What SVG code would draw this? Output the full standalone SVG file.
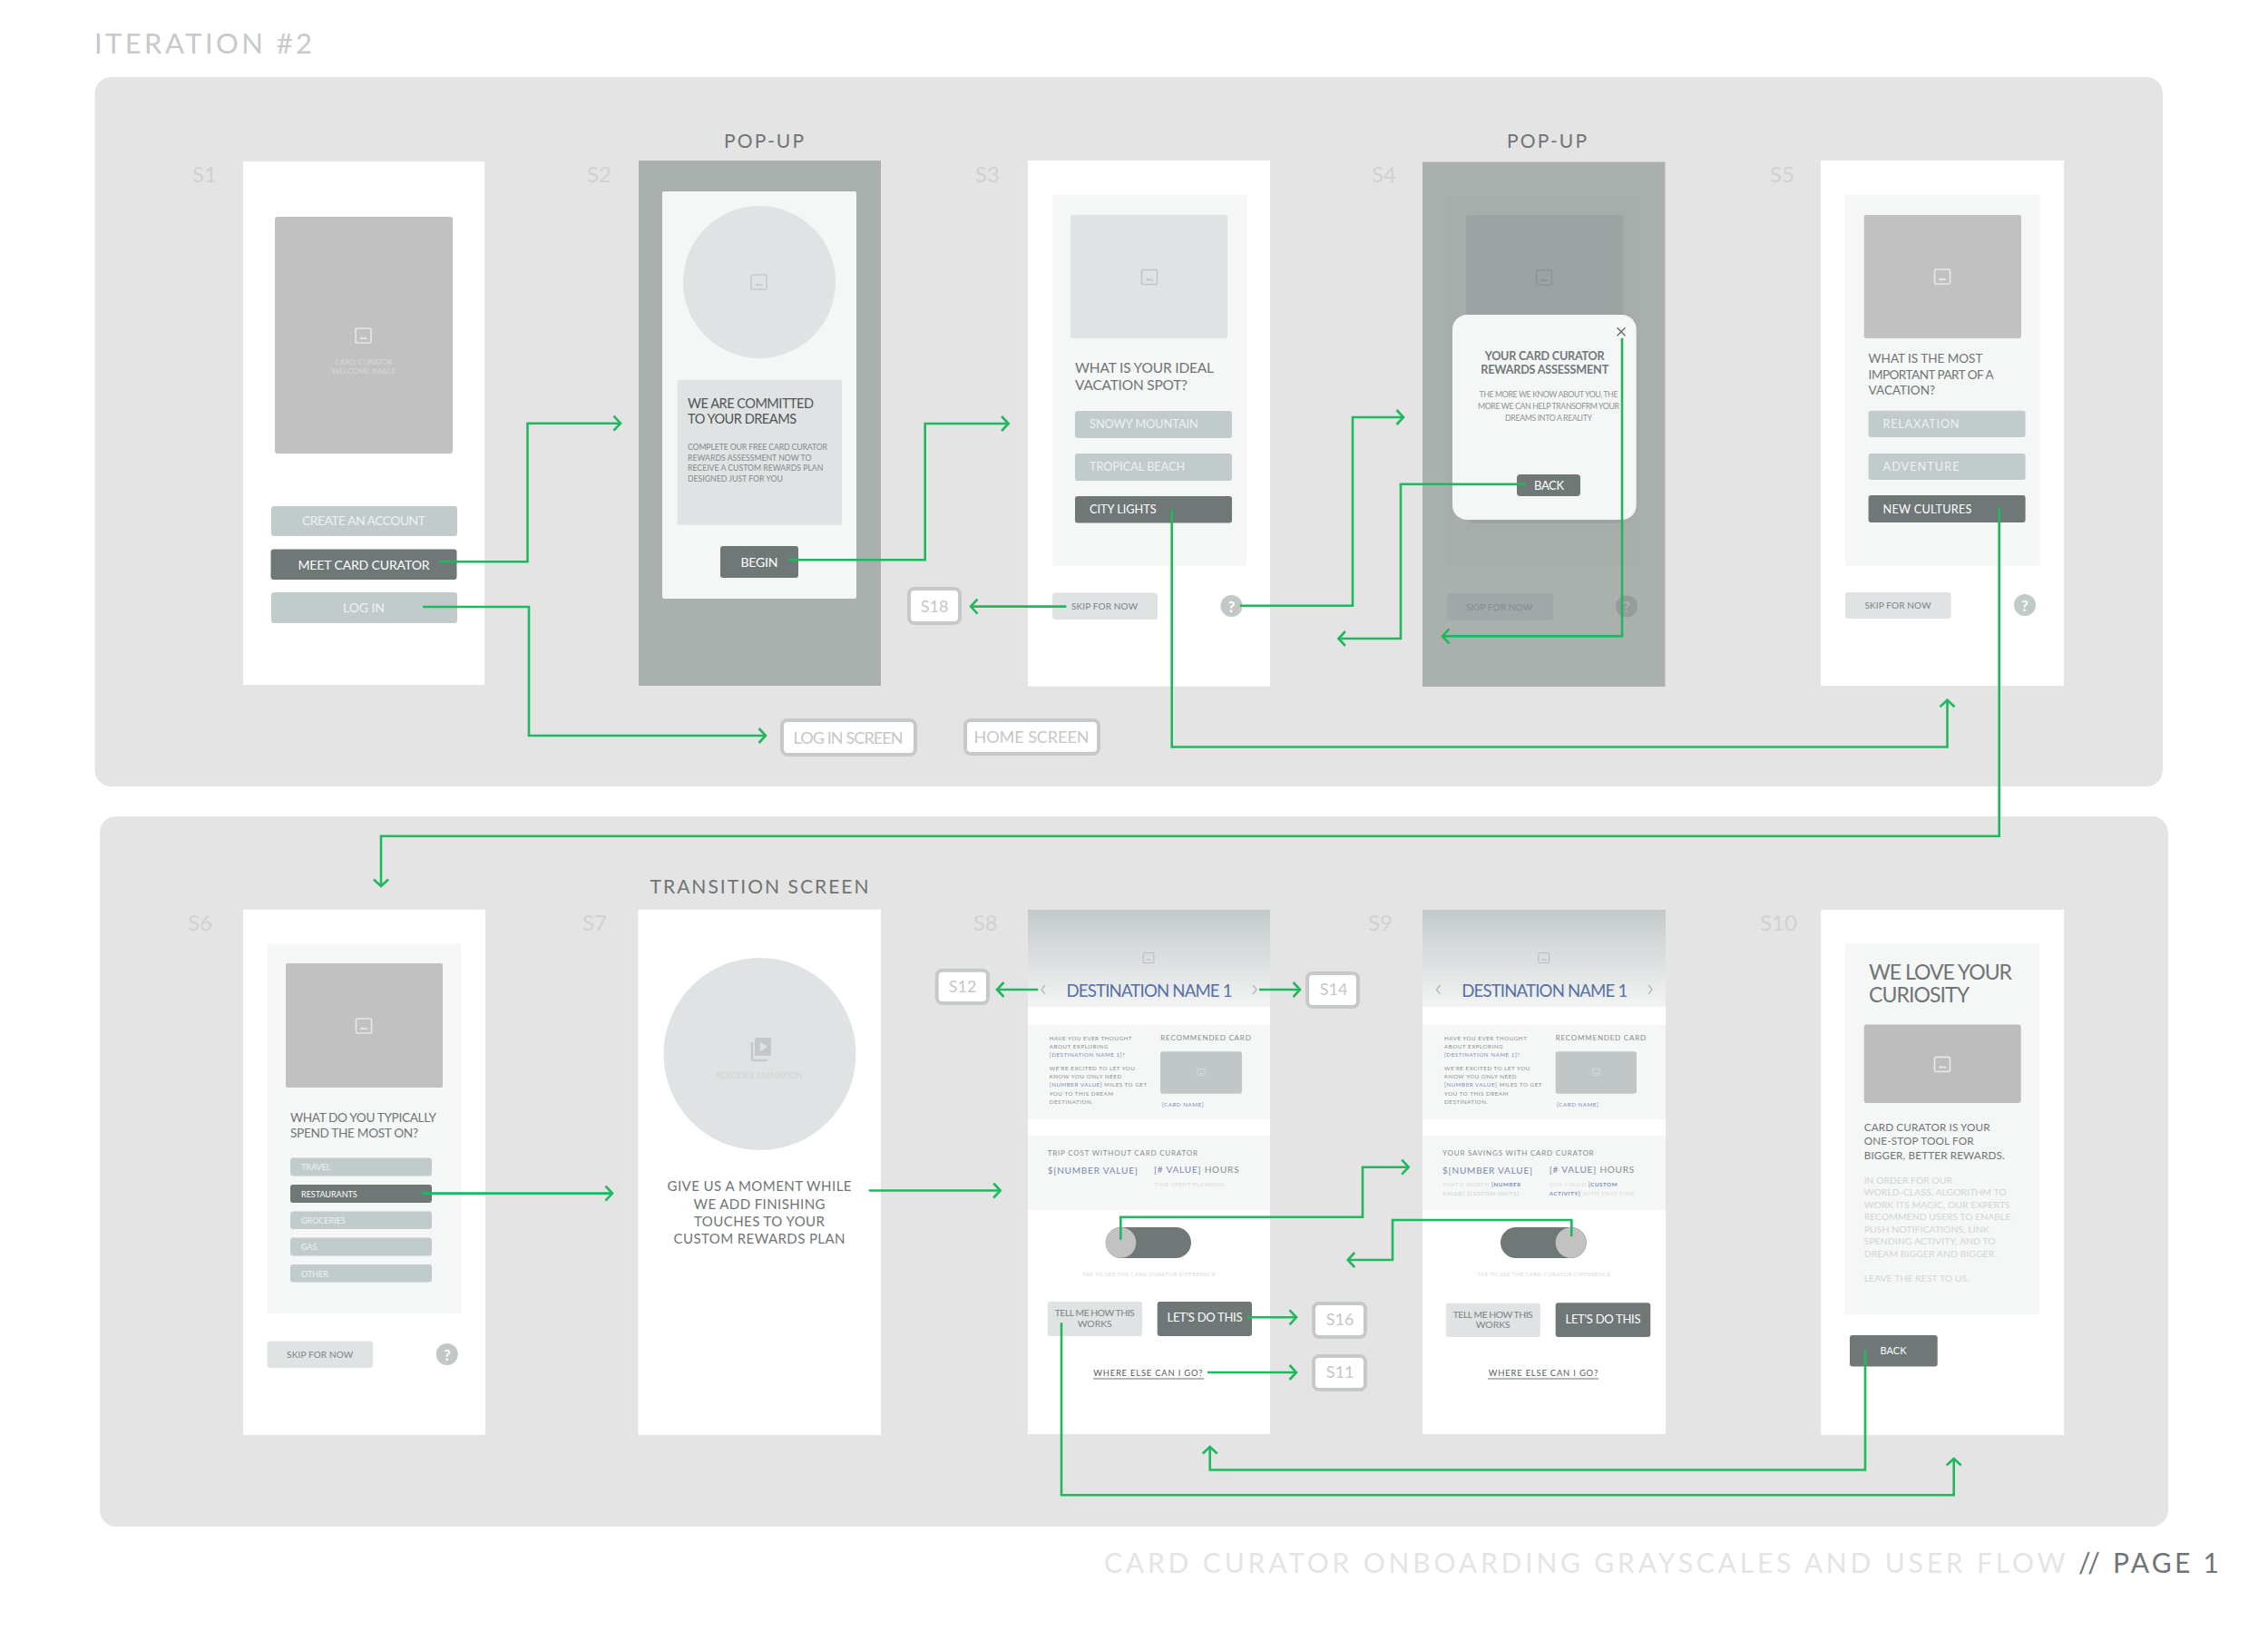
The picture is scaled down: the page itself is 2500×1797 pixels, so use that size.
<svg xmlns="http://www.w3.org/2000/svg" width="2500" height="1797" viewBox="0 0 2500 1797">
<style>
text{font-family:Lato,"Liberation Sans",sans-serif;}
.panel{fill:#e4e4e4}
.scr{fill:#fff}
.dim{fill:#a9b0ae}
.in{fill:#f5f6f6}
.ph{fill:#c1c1c1}
.phl{fill:#e0e3e3}
.bl{fill:#c2cbcb}
.bd{fill:#6f7777}
.bs{fill:#e0e3e3}
.tw{fill:#eef1f1}
.tk{fill:#fff}
.sl{font-size:24px;fill:#cfd2d2}
.hd{font-size:21px;fill:#6f7575;text-anchor:middle}
.q{fill:#6f7575}
.box{fill:#fff;stroke:#c6c9c9;stroke-width:4}
.bt{fill:#c4c8c8;font-size:18px;text-anchor:middle}
.sk{fill:#7c8282;font-size:10px}
.m{text-anchor:middle}
.c{fill:none;stroke:#1fb85f;stroke-width:2.6;marker-end:url(#ah)}
.t6{font-size:6.2px;fill:#8a9090;letter-spacing:.55px}
.b6{fill:#7d90b4}
.bb{fill:#7d90b4;font-weight:700}
.t8{font-size:8px;fill:#868c8c;letter-spacing:.8px}
.n10{font-size:10px;letter-spacing:.8px;fill:#7788ab}
.h10{fill:#868c8c}
.f6{font-size:6.2px;fill:#d6d9d9;letter-spacing:.55px}
.dn{font-size:18.6px;fill:#5470a6;text-anchor:middle}
.g10{font-size:10.4px;fill:#d2d5d5}
.chev{fill:none;stroke:#b4baba;stroke-width:1.4}
.tg{font-size:10.4px;fill:#7c8282;text-anchor:middle}
.we{font-size:9.4px;fill:#555b5b;text-anchor:middle;letter-spacing:.7px}
</style>
<defs>
<g id="img"><rect x="-8.5" y="-8" width="17" height="16" rx="1.5" fill="none" stroke="currentColor" stroke-width="1.6"/><path d="M-4.5 4l3-3 2 2 1.5-1.5 3 2.5z" fill="currentColor"/></g>
<linearGradient id="hg" x1="0" y1="0" x2="0" y2="1"><stop offset="0" stop-color="#c3c9c9"/><stop offset="1" stop-color="#f3f4f4"/></linearGradient>
<marker id="ah" markerUnits="userSpaceOnUse" markerWidth="24" markerHeight="24" viewBox="-12 -12 24 24" refX="0" refY="0" orient="auto"><path d="M-7.5-8L0 0-7.5 8" fill="none" stroke="#1fb85f" stroke-width="2.6"/></marker>
</defs>
<text x="104" y="59" font-size="31" fill="#c6caca" textLength="240">ITERATION #2</text>
<rect class="panel" x="104.500" y="85" width="2279.500" height="782" rx="18"/>
<rect class="panel" x="110" y="900" width="2280" height="783" rx="18"/>
<g id="s1">
<text class="sl" x="212" y="201">S1</text>
<rect class="scr" x="268" y="178" width="266" height="577"/>
<rect class="ph" x="303" y="239" width="196" height="261" rx="3"/>
<use href="#img" x="400.500" y="370" color="#e6e6e6"/>
<text x="401" y="402" font-size="8.400" fill="#d6d8d8" class="m">CARD CURATOR</text>
<text x="401" y="412" font-size="8.400" fill="#d6d8d8" class="m">WELCOME IMAGE</text>
<rect class="bl" x="299" y="558" width="205" height="33" rx="3"/>
<text class="tw m" x="401" y="579" font-size="14" textLength="136">CREATE AN ACCOUNT</text>
<rect class="bd" x="298.500" y="605.500" width="205" height="33.500" rx="3"/>
<text class="tk m" x="401" y="628" font-size="14" textLength="145">MEET CARD CURATOR</text>
<rect class="bl" x="299" y="653" width="205" height="34" rx="3"/>
<text class="tw m" x="401" y="675" font-size="14" textLength="46">LOG IN</text>
</g>
<g id="s2">
<text class="hd" x="842" y="163" textLength="88">POP-UP</text>
<text class="sl" x="647" y="201">S2</text>
<rect class="dim" x="704" y="177" width="267" height="579"/>
<rect class="in" x="730" y="211" width="214" height="449" rx="2"/>
<circle cx="837" cy="311" r="84" fill="#e0e3e3"/>
<use href="#img" x="836.500" y="311" color="#c6caca"/>
<rect class="phl" x="746.700" y="418.700" width="181.300" height="160" rx="2"/>
<text x="758" y="450" font-size="14.500" fill="#4f5555" textLength="139">WE ARE COMMITTED</text>
<text x="758" y="467" font-size="14.500" fill="#4f5555" textLength="120">TO YOUR DREAMS</text>
<g font-size="8.700" fill="#838989">
<text x="758" y="496" textLength="154">COMPLETE OUR FREE CARD CURATOR</text>
<text x="758" y="507.500">REWARDS ASSESSMENT NOW TO</text>
<text x="758" y="519">RECEIVE A CUSTOM REWARDS PLAN</text>
<text x="758" y="530.500">DESIGNED JUST FOR YOU</text>
</g>
<rect class="bd" x="794" y="602" width="86" height="35" rx="3"/>
<text class="tk m" x="837" y="625" font-size="14" textLength="41">BEGIN</text>
</g>
<g id="s18"><rect class="box" x="1002" y="649" width="56" height="38" rx="6"/><text class="bt" x="1030" y="675">S18</text></g>
<g id="login-screen"><rect class="box" x="862" y="794" width="147" height="38" rx="6"/><text class="bt" x="935" y="820" textLength="121">LOG IN SCREEN</text></g>
<g id="home-screen"><rect class="box" x="1064" y="794" width="147" height="37" rx="6"/><text class="bt" x="1137" y="819" textLength="127">HOME SCREEN</text></g>
<g id="s3">
<text class="sl" x="1075" y="201">S3</text>
<rect class="scr" x="1133" y="177" width="267" height="579.500"/>
<rect class="in" x="1160" y="215" width="214" height="409" rx="2"/>
<rect class="phl" x="1180" y="237" width="173" height="136" rx="2"/>
<use href="#img" x="1267" y="305.500" color="#c0c5c5"/>
<text class="q" x="1185" y="411" font-size="15.400" textLength="153">WHAT IS YOUR IDEAL</text>
<text class="q" x="1185" y="430" font-size="15.400" textLength="124">VACATION SPOT?</text>
<rect class="bl" x="1185" y="453" width="173" height="30" rx="3"/>
<text class="tw" x="1201" y="472" font-size="12.700">SNOWY MOUNTAIN</text>
<rect class="bl" x="1185" y="500" width="173" height="30" rx="3"/>
<text class="tw" x="1201" y="519" font-size="12.700">TROPICAL BEACH</text>
<rect class="bd" x="1185" y="547" width="173" height="29.500" rx="3"/>
<text class="tk" x="1201" y="566" font-size="12.700">CITY LIGHTS</text>
<rect class="bs" x="1160" y="653.600" width="116" height="29.400" rx="3"/>
<text class="sk" x="1181" y="672" textLength="73">SKIP FOR NOW</text>
<circle cx="1357.500" cy="668" r="12" fill="#c2c7c7"/>
<text x="1357.500" y="674.500" font-size="17" font-weight="700" fill="#fff" class="m">?</text>
</g>
<g id="s4">
<text class="hd" x="1705" y="163" textLength="88">POP-UP</text>
<text class="sl" x="1512" y="201">S4</text>
<rect class="dim" x="1568" y="178.500" width="267.500" height="578.500"/>
<rect x="1595" y="215.500" width="213" height="408.500" fill="#a6adab" rx="2"/>
<rect x="1616" y="237" width="173" height="136" fill="#9da2a2" rx="2"/>
<use href="#img" x="1702" y="306" color="#8e9494"/>
<rect x="1620" y="560" width="168" height="17" rx="3" fill="#9da2a2"/>
<rect x="1595" y="654" width="116.600" height="29.500" rx="3" fill="#a1a6a6"/>
<text x="1616" y="672.500" font-size="10" fill="#868c8c" textLength="73">SKIP FOR NOW</text>
<circle cx="1793" cy="668.600" r="12" fill="#969c9b"/>
<text x="1793" y="675" font-size="17" font-weight="700" fill="#a9b0ae" class="m">?</text>
<rect x="1601" y="347" width="202.700" height="226" rx="16" fill="#f5f6f6"/>
<path d="M1782.500 361.200l9 9m0-9l-9 9" stroke="#5e6565" stroke-width="1.300" fill="none"/>
<text class="m" x="1702.700" y="397" font-size="12.600" font-weight="700" fill="#71787a" textLength="132">YOUR CARD CURATOR</text>
<text class="m" x="1702.700" y="412" font-size="12.600" font-weight="700" fill="#71787a" textLength="141">REWARDS ASSESSMENT</text>
<g font-size="8.800" fill="#8f9494" class="m">
<text x="1707" y="438" textLength="153">THE MORE WE KNOW ABOUT YOU, THE</text>
<text x="1707" y="451" textLength="156">MORE WE CAN HELP TRANSOFRM YOUR</text>
<text x="1707" y="464" textLength="96">DREAMS INTO A REALITY</text>
</g>
<rect class="bd" x="1672" y="523" width="70" height="24" rx="4"/>
<text class="tk m" x="1707.500" y="539.500" font-size="13" textLength="33">BACK</text>
</g>
<g id="s5">
<text class="sl" x="1951" y="201">S5</text>
<rect class="scr" x="2007" y="177" width="268" height="579"/>
<rect class="in" x="2034" y="215" width="214.600" height="409" rx="2"/>
<rect class="ph" x="2054.700" y="237" width="173.300" height="136" rx="2"/>
<use href="#img" x="2141" y="305" color="#e8e8e8"/>
<g class="q" font-size="13.500">
<text x="2059.600" y="400">WHAT IS THE MOST</text>
<text x="2059.600" y="417.500" textLength="138">IMPORTANT PART OF A</text>
<text x="2059.600" y="434.500">VACATION?</text>
</g>
<rect class="bl" x="2059.600" y="452.700" width="173" height="29.300" rx="3"/>
<text class="tw" x="2075.500" y="472" font-size="12.700" textLength="84">RELAXATION</text>
<rect class="bl" x="2059.600" y="500" width="173" height="29" rx="3"/>
<text class="tw" x="2075.500" y="519" font-size="12.700" textLength="84">ADVENTURE</text>
<rect class="bd" x="2059.600" y="546" width="173" height="30" rx="3"/>
<text class="tk" x="2075.500" y="566" font-size="12.700" textLength="98">NEW CULTURES</text>
<rect class="bs" x="2034" y="653" width="116.600" height="29" rx="3"/>
<text class="sk m" x="2092" y="671" textLength="73">SKIP FOR NOW</text>
<circle cx="2232" cy="667" r="12" fill="#c2c9c9"/>
<text x="2232" y="673.500" font-size="17" font-weight="700" fill="#fff" class="m">?</text>
</g>
<g id="s6">
<text class="sl" x="207" y="1026">S6</text>
<rect class="scr" x="268" y="1002.700" width="267" height="579.300"/>
<rect class="in" x="294.500" y="1040.500" width="214" height="407.500" rx="2"/>
<rect class="ph" x="315" y="1062" width="173" height="137" rx="2"/>
<use href="#img" x="401" y="1131" color="#e8e8e8"/>
<text class="q" x="320" y="1237" font-size="13.600" textLength="161">WHAT DO YOU TYPICALLY</text>
<text class="q" x="320" y="1254" font-size="13.600" textLength="141">SPEND THE MOST ON?</text>
<rect class="bl" x="320" y="1276.500" width="156" height="20" rx="3"/><text class="tw" x="332" y="1290" font-size="9">TRAVEL</text>
<rect class="bd" x="320" y="1306" width="156" height="20" rx="3"/><text class="tk" x="332" y="1319.500" font-size="9">RESTAURANTS</text>
<rect class="bl" x="320" y="1335.500" width="156" height="19.500" rx="3"/><text class="tw" x="332" y="1349" font-size="9">GROCERIES</text>
<rect class="bl" x="320" y="1364.500" width="156" height="20" rx="3"/><text class="tw" x="332" y="1378" font-size="9">GAS</text>
<rect class="bl" x="320" y="1394" width="156" height="19.500" rx="3"/><text class="tw" x="332" y="1407.500" font-size="9">OTHER</text>
<rect class="bs" x="294.500" y="1478.600" width="116.500" height="29.400" rx="3"/>
<text class="sk m" x="352.600" y="1497" textLength="73">SKIP FOR NOW</text>
<circle cx="492.800" cy="1493" r="12" fill="#c2c7c7"/>
<text x="492.800" y="1499.500" font-size="17" font-weight="700" fill="#fff" class="m">?</text>
</g>
<g id="s7">
<text class="hd" x="837" y="985" textLength="241">TRANSITION SCREEN</text>
<text class="sl" x="642" y="1026">S7</text>
<rect class="scr" x="703.500" y="1002.700" width="267.500" height="579.300"/>
<circle cx="837.500" cy="1162" r="106" fill="#e0e3e3"/>
<path d="M829 1149v18c0 1 1 2 2 2h15" fill="none" stroke="#c3c8c8" stroke-width="2.400"/>
<rect x="832" y="1144" width="18" height="20" rx="2" fill="#c3c8c8"/>
<path d="M838 1149l8 5-8 5z" fill="#e0e3e3"/>
<text class="m" x="837" y="1189" font-size="9" fill="#d0d4d4" textLength="95">ROLODEX ANIMATION</text>
<g class="m q" font-size="15">
<text x="837" y="1313" textLength="203">GIVE US A MOMENT WHILE</text>
<text x="837" y="1332.600" textLength="145">WE ADD FINISHING</text>
<text x="837" y="1351.700" textLength="144">TOUCHES TO YOUR</text>
<text x="837" y="1370.700" textLength="189">CUSTOM REWARDS PLAN</text>
</g>
</g>
<g id="s12"><rect class="box" x="1032.700" y="1069.700" width="56.300" height="36.300" rx="6"/><text class="bt" x="1061" y="1094">S12</text></g>
<g id="s14"><rect class="box" x="1441" y="1073" width="56" height="37" rx="6"/><text class="bt" x="1470" y="1097">S14</text></g>
<g id="s16"><rect class="box" x="1448" y="1437" width="57" height="37" rx="6"/><text class="bt" x="1477" y="1461">S16</text></g>
<g id="s11"><rect class="box" x="1448" y="1495" width="57" height="37" rx="6"/><text class="bt" x="1477" y="1519">S11</text></g>
<g id="s8">
<text class="sl" x="1072.700" y="1025.700">S8</text>
<rect class="scr" x="1133" y="1002.700" width="267" height="578.300"/>
<rect x="1133" y="1002.700" width="267" height="107.300" fill="url(#hg)"/>
<use href="#img" transform="translate(1266 1056) scale(.68)" color="#b9bfbf"/>
<path class="chev" d="M1152 1086l-4 5 4 5M1381 1086l4 5-4 5"/>
<text class="dn" x="1267" y="1098.700" textLength="183">DESTINATION NAME 1</text>
<rect class="in" x="1133" y="1130" width="267" height="104"/>
<text class="t6" x="1156.700" y="1146.700">HAVE YOU EVER THOUGHT</text>
<text class="t6" x="1156.700" y="1156">ABOUT EXPLORING</text>
<text class="t6 b6" x="1156.700" y="1165.300">[DESTINATION NAME 1]?</text>
<text class="t6" x="1156.700" y="1179.700">WE'RE EXCITED TO LET YOU</text>
<text class="t6" x="1156.700" y="1189">KNOW YOU ONLY NEED</text>
<text class="t6" x="1156.700" y="1198.300"><tspan class="b6">[NUMBER VALUE]</tspan> MILES TO GET</text>
<text class="t6" x="1156.700" y="1207.700">YOU TO THIS DREAM</text>
<text class="t6" x="1156.700" y="1217">DESTINATION.</text>
<text class="t8" x="1279.300" y="1146.700">RECOMMENDED CARD</text>
<rect x="1279" y="1159.300" width="90" height="46.400" rx="3" fill="#c0c7c6"/>
<use href="#img" transform="translate(1324 1182) scale(.45)" color="#dfe2e2"/>
<text class="t6 b6" x="1280.700" y="1220">[CARD NAME]</text>
<rect class="in" x="1133" y="1252" width="267" height="82"/>
<text class="t8" x="1154.700" y="1274">TRIP COST WITHOUT CARD CURATOR</text>
<text class="n10" x="1154.700" y="1294">$[NUMBER VALUE]</text>
<text class="n10" x="1272" y="1293.300">[# VALUE] <tspan class="h10">HOURS</tspan></text>
<text class="f6" x="1272" y="1308">TIME SPENT PLANNING</text>
<rect class="bd" x="1218.700" y="1353" width="94.300" height="34" rx="17"/>
<circle cx="1235.500" cy="1370" r="16.800" fill="#c2c2c2"/>
<text class="f6 m" x="1266.700" y="1407" textLength="147">TAP TO SEE THE CARD CURATOR DIFFERENCE</text>
<rect class="bs" x="1154.700" y="1435" width="104.300" height="38" rx="3"/>
<text class="tg" x="1206.700" y="1451" textLength="88">TELL ME HOW THIS</text>
<text class="tg" x="1206.700" y="1463">WORKS</text>
<rect class="bd" x="1275.700" y="1435" width="104.300" height="38" rx="3"/>
<text class="tk m" x="1328" y="1457" font-size="13" textLength="83">LET'S DO THIS</text>
<text class="we" x="1265.700" y="1517" textLength="121">WHERE ELSE CAN I GO?</text>
<rect x="1205" y="1519.500" width="122" height="1" fill="#6f7777"/>
</g>
<g id="s9">
<text class="sl" x="1508" y="1025.700">S9</text>
<rect class="scr" x="1568" y="1002.700" width="268" height="578.300"/>
<rect x="1568" y="1002.700" width="268" height="107.300" fill="url(#hg)"/>
<use href="#img" transform="translate(1701.700 1056) scale(.68)" color="#b9bfbf"/>
<path class="chev" d="M1587.500 1086l-4 5 4 5M1817 1086l4 5-4 5"/>
<text class="dn" x="1702.700" y="1098.700" textLength="183">DESTINATION NAME 1</text>
<rect class="in" x="1568" y="1130" width="268" height="104"/>
<text class="t6" x="1592" y="1146.700">HAVE YOU EVER THOUGHT</text>
<text class="t6" x="1592" y="1156">ABOUT EXPLORING</text>
<text class="t6 b6" x="1592" y="1165.300">[DESTINATION NAME 1]?</text>
<text class="t6" x="1592" y="1179.700">WE'RE EXCITED TO LET YOU</text>
<text class="t6" x="1592" y="1189">KNOW YOU ONLY NEED</text>
<text class="t6" x="1592" y="1198.300"><tspan class="b6">[NUMBER VALUE]</tspan> MILES TO GET</text>
<text class="t6" x="1592" y="1207.700">YOU TO THIS DREAM</text>
<text class="t6" x="1592" y="1217">DESTINATION.</text>
<text class="t8" x="1714.700" y="1146.700">RECOMMENDED CARD</text>
<rect x="1714.700" y="1159.300" width="89.300" height="46.400" rx="3" fill="#c0c7c6"/>
<use href="#img" transform="translate(1759.500 1182) scale(.45)" color="#dfe2e2"/>
<text class="t6 b6" x="1716" y="1220">[CARD NAME]</text>
<rect class="in" x="1568" y="1252" width="268" height="82"/>
<text class="t8" x="1590" y="1274">YOUR SAVINGS WITH CARD CURATOR</text>
<text class="n10" x="1590" y="1294">$[NUMBER VALUE]</text>
<text class="n10" x="1707.700" y="1293.300">[# VALUE] <tspan class="h10">HOURS</tspan></text>
<text class="f6" x="1590" y="1308">THAT'S WORTH <tspan class="bb">[NUMBER</tspan></text>
<text class="f6 bb" x="1590" y="1317.700">VALUE] [CUSTOM UNITS]</text>
<text class="f6" x="1707.700" y="1308">YOU COULD <tspan class="bb">[CUSTOM</tspan></text>
<text class="f6" x="1707.700" y="1317.700"><tspan class="bb">ACTIVITY]</tspan> WITH THAT TIME</text>
<rect class="bd" x="1654" y="1353" width="94.700" height="34" rx="17"/>
<circle cx="1731.500" cy="1370" r="16.800" fill="#c2c2c2"/>
<text class="f6 m" x="1702" y="1407" textLength="147">TAP TO SEE THE CARD CURATOR DIFFERENCE</text>
<rect class="bs" x="1593.700" y="1436.700" width="104.300" height="37.300" rx="3"/>
<text class="tg" x="1645.700" y="1452.700" textLength="88">TELL ME HOW THIS</text>
<text class="tg" x="1645.700" y="1464">WORKS</text>
<rect class="bd" x="1714.700" y="1436.300" width="104.600" height="37.700" rx="3"/>
<text class="tk m" x="1767" y="1458.700" font-size="13" textLength="83">LET'S DO THIS</text>
<text class="we" x="1701.300" y="1517" textLength="121">WHERE ELSE CAN I GO?</text>
<rect x="1640" y="1519.500" width="122" height="1" fill="#6f7777"/>
</g>
<g id="s10">
<text class="sl" x="1940" y="1025.700">S10</text>
<rect class="scr" x="2007.300" y="1003" width="267.700" height="579"/>
<rect class="in" x="2034" y="1040" width="214" height="409" rx="2"/>
<text class="q" x="2060" y="1080" font-size="23" textLength="158">WE LOVE YOUR</text>
<text class="q" x="2060" y="1105" font-size="23" textLength="111">CURIOSITY</text>
<rect x="2054.700" y="1129.600" width="173" height="86.400" rx="3" fill="#bdbdbd"/>
<use href="#img" x="2141" y="1173.400" color="#e8e8e8"/>
<g class="q" font-size="11.700">
<text x="2054.700" y="1246.700" textLength="139">CARD CURATOR IS YOUR</text>
<text x="2054.700" y="1262.300" textLength="121">ONE-STOP TOOL FOR</text>
<text x="2054.700" y="1278" textLength="155">BIGGER, BETTER REWARDS.</text>
</g>
<text class="g10" x="2054.700" y="1304.800">IN ORDER FOR OUR</text>
<text class="g10" x="2054.700" y="1318.300" textLength="157">WORLD-CLASS, ALGORITHM TO</text>
<text class="g10" x="2054.700" y="1331.700" textLength="161">WORK ITS MAGIC, OUR EXPERTS</text>
<text class="g10" x="2054.700" y="1345" textLength="161.700">RECOMMEND USERS TO ENABLE</text>
<text class="g10" x="2054.700" y="1358.600" textLength="138">PUSH NOTIFICATIONS, LINK</text>
<text class="g10" x="2054.700" y="1372" textLength="145">SPENDING ACTIVITY, AND TO</text>
<text class="g10" x="2054.700" y="1386" textLength="146">DREAM BIGGER AND BIGGER.</text>
<text class="g10" x="2054.700" y="1412.800" textLength="116">LEAVE THE REST TO US.</text>
<rect class="bd" x="2039" y="1472" width="96.700" height="34.500" rx="3"/>
<text class="tk m" x="2087" y="1493" font-size="11">BACK</text>
</g>
<g id="connectors">
<path class="c" d="M484 619.300H581.500V466.700H684"/>
<path class="c" d="M466 669H583V811H844"/>
<path class="c" d="M869 617.300H1019.700V467H1111.600"/>
<path class="c" d="M1175.400 668.600H1070"/>
<path class="c" d="M1366.700 667.800H1491V460H1547"/>
<path class="c" d="M1682 533.700H1544V704H1475.400"/>
<path class="c" d="M1788 372.700V701.400H1590"/>
<path class="c" d="M1291.700 561.500V823.500H2146.500V771.700"/>
<path class="c" d="M2203.700 560V921.800H420V977"/>
<path class="c" d="M465 1315.600H675"/>
<path class="c" d="M957.700 1312.500H1102.700"/>
<path class="c" d="M1144.300 1091H1099"/>
<path class="c" d="M1388 1091H1433"/>
<path class="c" d="M1374 1452.300H1429"/>
<path class="c" d="M1331 1513H1429"/>
<path class="c" d="M1235.300 1366.700V1341.700H1502V1286.700H1552.700"/>
<path class="c" d="M1732.300 1363V1345H1535V1389H1485.700"/>
<path class="c" d="M1170 1458.300V1648.300H2153.700V1608"/>
<path class="c" d="M2056 1488.700V1620.500H1333.700V1595"/>
</g>
<g id="footer">
<text x="1217" y="1734.300" font-size="30" fill="#e3e5e5" textLength="1059.600">CARD CURATOR ONBOARDING GRAYSCALES AND USER FLOW</text>
<text x="2291" y="1734.300" font-size="30" fill="#6f7575" textLength="155">// PAGE 1</text>
</g>
</svg>
